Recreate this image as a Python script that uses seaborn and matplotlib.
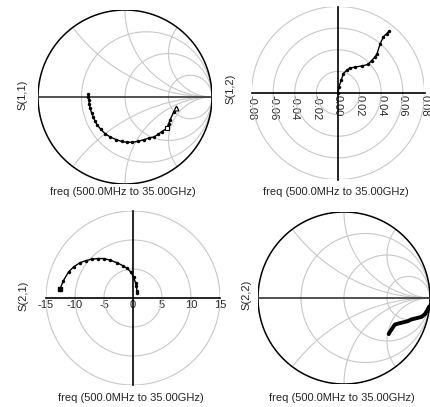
import numpy as np
import seaborn as sns
import matplotlib.pyplot as plt

s11_re = [-0.42, -0.42, -0.415, -0.41, -0.40, -0.385, -0.365, -0.345, -0.32, -0.28, -0.23, -0.17, -0.10, -0.04,
          0.02, 0.08, 0.15, 0.22, 0.28, 0.33, 0.38, 0.42, 0.48, 0.50, 0.52, 0.56, 0.59]
s11_im = [0.04, 0.0, -0.04, -0.08, -0.13, -0.18, -0.23, -0.28, -0.32, -0.37, -0.42, -0.46, -0.49, -0.51,
          -0.52, -0.52, -0.51, -0.49, -0.47, -0.46, -0.43, -0.40, -0.36, -0.31, -0.26, -0.17, -0.13]

s12_re = [0.0, 0.001, 0.003, 0.005, 0.008, 0.011, 0.016, 0.022, 0.028, 0.031, 0.034, 0.036, 0.039, 0.042, 0.045, 0.047]
s12_im = [0.0, 0.006, 0.012, 0.018, 0.021, 0.023, 0.024, 0.025, 0.0265, 0.030, 0.033, 0.036, 0.0455, 0.052, 0.055, 0.057]

s21_re = [0.7, 0.68, 0.6, 0.45, 0.1, -0.4, -1.0, -1.8, -2.8, -3.9, -5.0, -6.0, -7.1, -8.1, -9.1, -10.2, -11.1, -12.0, -12.6]
s21_im = [0.9, 1.2, 2.0, 2.6, 3.6, 4.5, 5.1, 5.6, 6.1, 6.5, 6.8, 6.8, 6.7, 6.45, 6.1, 5.4, 4.5, 3.0, 1.5]

s22_re = [0.99, 0.97, 0.94, 0.90, 0.86, 0.82, 0.78, 0.74, 0.70, 0.66, 0.62, 0.59, 0.57, 0.55, 0.53, 0.52]
s22_im = [-0.10, -0.14, -0.19, -0.22, -0.23, -0.24, -0.25, -0.27, -0.28, -0.29, -0.30, -0.31, -0.34, -0.37, -0.40, -0.42]

# grid values
smith_r = [1 / 3, 1.0, 3.0]
smith_x = [0.5, 1.0, 2.0]
s12_rings = [0.02, 0.04, 0.06, 0.08]
s12_ticks = [-0.08, -0.06, -0.04, -0.02, 0.0, 0.02, 0.04, 0.06, 0.08]
s12_labels = ["-0.08", "-0.06", "-0.04", "-0.02", "0.00", "0.02", "0.04", "0.06", "0.08"]
s21_rings = [5, 10, 15]
s21_ticks = [-15, -10, -5, 0, 5, 10, 15]
s21_labels = ["-15", "-10", "-5", "0", "5", "10", "15"]
freq_text = "freq (500.0MHz to 35.00GHz)"

sns.set_style("white")
plt.rcParams["font.family"] = ["Liberation Sans", "DejaVu Sans"]
plt.rcParams["axes.unicode_minus"] = False

W, H = 431, 407
fig = plt.figure(figsize=(W / 100, H / 100), dpi=100)
GRID = "#c8c8c8"


def place(cx, cy, rpx, R):
    ax = fig.add_axes([(cx - rpx) / W, 1 - (cy + rpx) / H, 2 * rpx / W, 2 * rpx / H])
    ax.set_xlim(-R, R)
    ax.set_ylim(-R, R)
    ax.patch.set_alpha(0)
    return ax


def smith(ax, re, im, lw, ms):
    ax.set_axis_off()
    t = np.linspace(0, 2 * np.pi, 400)
    for r in smith_r:
        c, rad = r / (1 + r), 1 / (1 + r)
        ax.plot(c + rad * np.cos(t), rad * np.sin(t), color=GRID, lw=0.8)
    for x in smith_x:
        for s in (1, -1):
            px = 1 + np.cos(t) / x
            py = s / x + np.sin(t) / x
            mask = px ** 2 + py ** 2 > 1.0001
            px[mask] = np.nan
            py[mask] = np.nan
            ax.plot(px, py, color=GRID, lw=0.8)
    ax.plot(np.cos(t), np.sin(t), color="black", lw=1.1)
    ax.plot([-1, 1], [0, 0], color="#333333", lw=1.2)
    sns.lineplot(x=np.array(re), y=np.array(im), sort=False, estimator=None, ax=ax,
                 color="black", lw=lw, marker="o", markersize=ms, markeredgewidth=0)


def polar(ax, re, im, rings, ticks, labels, rot):
    t = np.linspace(0, 2 * np.pi, 400)
    for r in rings:
        ax.plot(r * np.cos(t), r * np.sin(t), color=GRID, lw=0.8)
    for side in ("top", "right"):
        ax.spines[side].set_visible(False)
    for side in ("bottom", "left"):
        ax.spines[side].set_position(("data", 0))
        ax.spines[side].set_color("black")
        ax.spines[side].set_linewidth(1.2)
    ax.set_yticks([])
    ax.set_xticks(ticks)
    ax.set_xticklabels(labels, rotation=rot)
    ax.tick_params(axis="x", length=0, pad=1.5, labelsize=8)
    sns.lineplot(x=np.array(re), y=np.array(im), sort=False, estimator=None, ax=ax,
                 color="black", lw=1.0, marker="o", markersize=2.5, markeredgewidth=0)
    ax.set_xlabel("")
    ax.set_ylabel("")


ax11 = place(125, 97, 87, 1.0)
smith(ax11, s11_re, s11_im, 1.0, 2.5)
ax11.plot(s11_re[22], s11_im[22], marker="s", ms=3.5, mfc="white", mec="black", mew=0.8)
ax11.plot(s11_re[-1], s11_im[-1], marker="^", ms=3.5, mfc="white", mec="black", mew=0.8)

ax12 = place(338, 93, 86.5, 0.08)
polar(ax12, s12_re, s12_im, s12_rings, s12_ticks, s12_labels, 270)

ax21 = place(133, 298, 87, 15)
polar(ax21, s21_re, s21_im, s21_rings, s21_ticks, s21_labels, 0)
ax21.plot(s21_re[-1], s21_im[-1], marker="s", ms=3.5, color="black")

ax22 = place(344, 298, 86, 1.0)
smith(ax22, s22_re, s22_im, 2.8, 0)

fs = 8
fig.text(22 / W, 1 - 95 / H, "S(1,1)", rotation=90, ha="center", va="center", fontsize=fs)
fig.text(230 / W, 1 - 89 / H, "S(1,2)", rotation=90, ha="center", va="center", fontsize=fs)
fig.text(23 / W, 1 - 296 / H, "S(2,1)", rotation=90, ha="center", va="center", fontsize=fs)
fig.text(246 / W, 1 - 295 / H, "S(2,2)", rotation=90, ha="center", va="center", fontsize=fs)
for cx, cy in [(123, 192), (336, 192), (131, 398), (342, 398)]:
    fig.text(cx / W, 1 - cy / H, freq_text, ha="center", va="center", fontsize=fs)

fig.savefig("out.png", dpi=100)
